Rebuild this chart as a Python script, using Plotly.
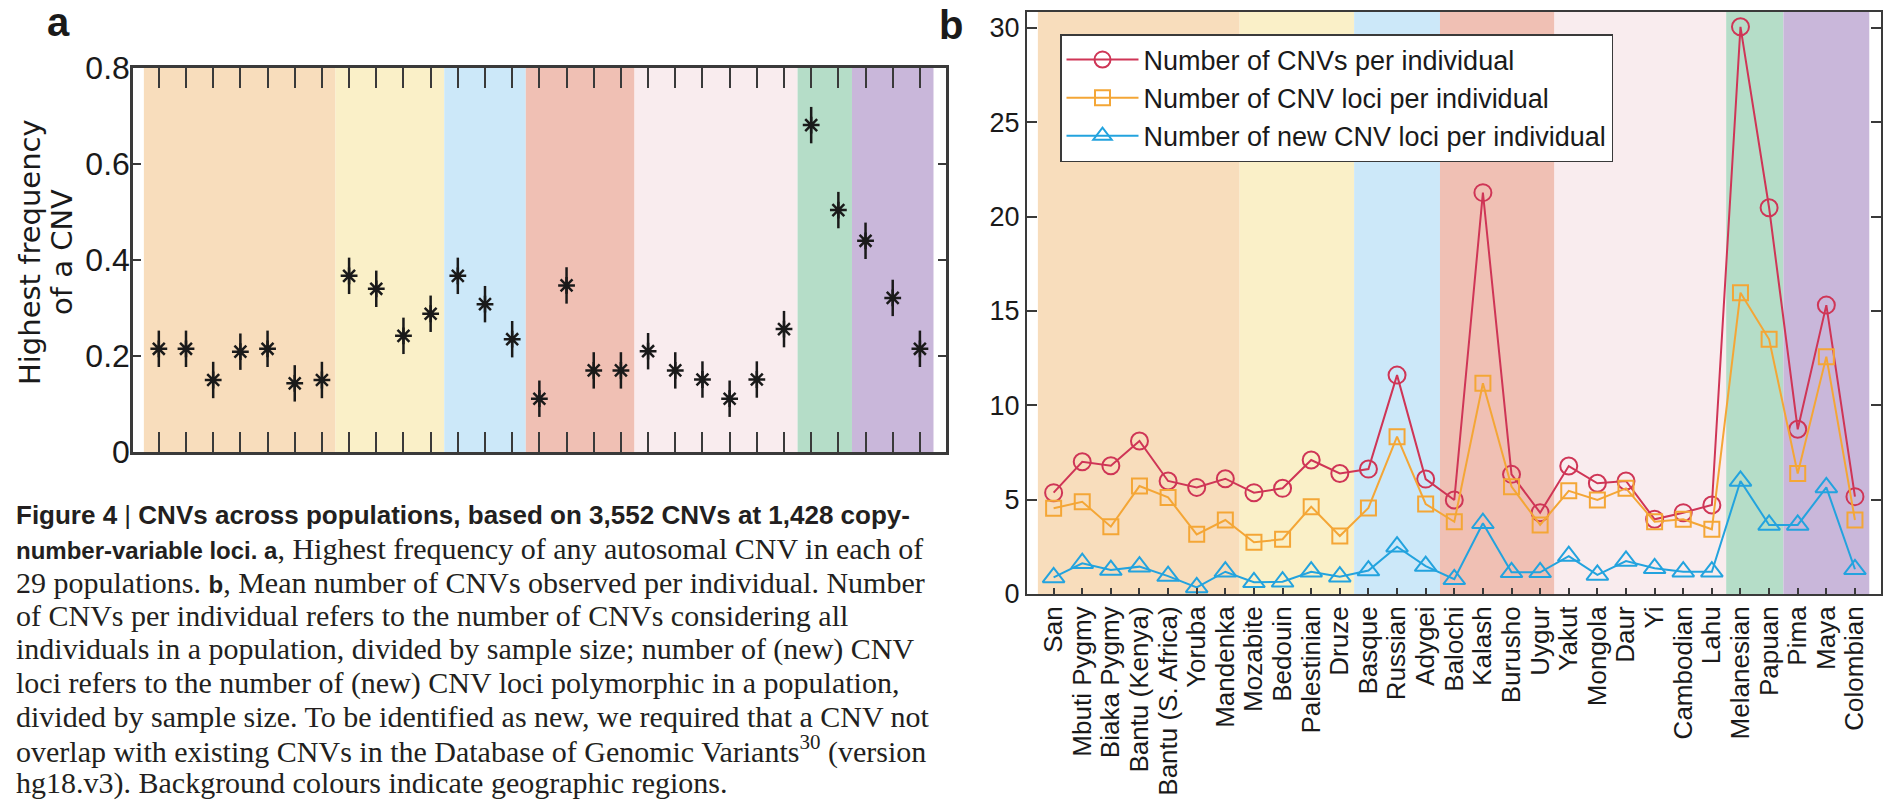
import plotly.graph_objects as go

W, H = 1884, 801

populations = ["San", "Mbuti Pygmy", "Biaka Pygmy", "Bantu (Kenya)", "Bantu (S. Africa)", "Yoruba",
               "Mandenka", "Mozabite", "Bedouin", "Palestinian", "Druze", "Basque", "Russian", "Adygei",
               "Balochi", "Kalash", "Burusho", "Uygur", "Yakut", "Mongola", "Daur", "Yi", "Cambodian",
               "Lahu", "Melanesian", "Papuan", "Pima", "Maya", "Colombian"]
region_sizes = [7, 4, 3, 4, 6, 2, 3]
region_colors = ["#F8DDBC", "#FAF0C8", "#CCE8F9", "#F0C0B4", "#F9ECEE", "#B5DDC8", "#C9B7DA"]

highest_freq = [0.215, 0.215, 0.150, 0.209, 0.215, 0.143, 0.150, 0.367, 0.340, 0.242, 0.288,
                0.367, 0.308, 0.235, 0.111, 0.347, 0.170, 0.170, 0.210, 0.170, 0.151, 0.111,
                0.151, 0.256, 0.681, 0.504, 0.440, 0.321, 0.215]

cnvs_per_ind = [5.37, 7.01, 6.80, 8.11, 5.99, 5.65, 6.11, 5.37, 5.60, 7.10, 6.39, 6.62, 11.6, 6.09,
                4.98, 21.27, 6.34, 4.31, 6.78, 5.87, 5.99, 3.96, 4.31, 4.72, 30.06, 20.47, 8.73,
                15.31, 5.16]
loci_per_ind = [4.54, 4.89, 3.57, 5.72, 5.12, 3.16, 3.92, 2.74, 2.90, 4.63, 3.07, 4.56, 8.34, 4.77,
                3.83, 11.17, 5.69, 3.66, 5.47, 4.98, 5.60, 3.83, 3.96, 3.43, 15.97, 13.50, 6.39,
                12.58, 3.92]
new_loci_per_ind = [0.88, 1.63, 1.27, 1.45, 0.95, 0.35, 1.18, 0.62, 0.65, 1.18, 0.92, 1.24, 2.51,
                    1.48, 0.78, 3.75, 1.15, 1.15, 2.01, 1.01, 1.75, 1.36, 1.18, 1.18, 5.99, 3.66,
                    3.66, 5.65, 1.31]

series_names = ["Number of CNVs per individual", "Number of CNV loci per individual",
                "Number of new CNV loci per individual"]
series_colors = ["#CF3556", "#F4A636", "#23A3DE"]
a_ticks = [0, 0.2, 0.4, 0.6, 0.8]
a_ticktext = ["0", "0.2", "0.4", "0.6", "0.8"]
b_ticks = [0, 5, 10, 15, 20, 25, 30]

BOLD_SPAN = "<span style=\"font-family:Liberation Sans, Arial, sans-serif;font-weight:bold;font-size:24px\">"
caption_lines = [
    "<b>Figure 4</b> | <b>CNVs across populations, based on 3,552 CNVs at 1,428 copy-</b>",
    BOLD_SPAN + "number-variable loci. a</span>, Highest frequency of any autosomal CNV in each of",
    "29 populations. " + BOLD_SPAN + "b</span>, Mean number of CNVs observed per individual. Number",
    "of CNVs per individual refers to the number of CNVs considering all",
    "individuals in a population, divided by sample size; number of (new) CNV",
    "loci refers to the number of (new) CNV loci polymorphic in a population,",
    "divided by sample size. To be identified as new, we required that a CNV not",
    "overlap with existing CNVs in the Database of Genomic Variants<sup>30</sup> (version",
    "hg18.v3). Background colours indicate geographic regions.",
]

x_idx = list(range(1, len(populations) + 1))

def px(x):
    return x / W

def py(y):
    return 1 - y / H

SANS = "Liberation Sans, Arial, Helvetica, sans-serif"
SERIF = "Liberation Serif, Times New Roman, serif"
AX = "#3a3a3a"

fig = go.Figure()

# Panel a: stars (vertical stroke + asterisk)
fig.add_trace(go.Scatter(x=x_idx, y=highest_freq, mode="markers", xaxis="x", yaxis="y",
                         marker=dict(symbol="line-ns-open", size=26, color="#1a1a1a",
                                     line=dict(width=2.5, color="#1a1a1a")),
                         showlegend=False, hoverinfo="skip"))
fig.add_trace(go.Scatter(x=x_idx, y=highest_freq, mode="markers", xaxis="x", yaxis="y",
                         marker=dict(symbol="asterisk-open", size=14, color="#1a1a1a",
                                     line=dict(width=2.5, color="#1a1a1a")),
                         showlegend=False))

# Panel b lines
symbols = ["circle-open", "square-open", "triangle-up-open"]
sizes = [17, 15, 19]
for vals, name, col, sym, sz in zip([cnvs_per_ind, loci_per_ind, new_loci_per_ind],
                                     series_names, series_colors, symbols, sizes):
    fig.add_trace(go.Scatter(x=x_idx, y=vals, mode="lines+markers", name=name,
                             xaxis="x2", yaxis="y2",
                             line=dict(color=col, width=2),
                             marker=dict(symbol=sym, size=sz, color=col,
                                         line=dict(width=2, color=col))))

# background bands
shapes = []
edge = 0.5
for i, (n, c) in enumerate(zip(region_sizes, region_colors)):
    x0 = 0.45 if i == 0 else edge
    x1 = edge + n
    edge = x1
    for xr, yr in (("x", "y domain"), ("x2", "y2 domain")):
        shapes.append(dict(type="rect", xref=xr, yref=yr, x0=x0, x1=x1, y0=0, y1=1,
                           fillcolor=c, line=dict(width=0), layer="below"))

annotations = [
    dict(text="<b>a</b>", x=px(58), y=py(22), xref="paper", yref="paper", showarrow=False,
         font=dict(family=SANS, size=40, color="#1a1a1a"), xanchor="center", yanchor="middle"),
    dict(text="<b>b</b>", x=px(951), y=py(25), xref="paper", yref="paper", showarrow=False,
         font=dict(family=SANS, size=40, color="#1a1a1a"), xanchor="center", yanchor="middle"),
    dict(text="Highest frequency", x=px(30), y=py(252), xref="paper", yref="paper",
         showarrow=False, textangle=-90, font=dict(family="DejaVu Sans", size=29, color="#1a1a1a"),
         xanchor="center", yanchor="middle"),
    dict(text="of a CNV", x=px(62), y=py(252), xref="paper", yref="paper",
         showarrow=False, textangle=-90, font=dict(family="DejaVu Sans", size=29, color="#1a1a1a"),
         xanchor="center", yanchor="middle"),
]
line_y0 = 515
for k, line in enumerate(caption_lines):
    if k == 0:
        f = dict(family=SANS, size=26, color="#231F20")
    else:
        f = dict(family=SERIF, size=30, color="#231F20")
    annotations.append(dict(text=line, x=px(14), y=py(line_y0 + k * 33.5), xref="paper",
                            yref="paper", showarrow=False, xanchor="left", yanchor="middle",
                            align="left", font=f))

fig.update_layout(
    template="none",
    width=W, height=H,
    margin=dict(l=0, r=0, t=0, b=0, pad=0, autoexpand=False),
    paper_bgcolor="white", plot_bgcolor="white",
    shapes=shapes, annotations=annotations,
    xaxis=dict(domain=[px(133), px(946)], range=[0.05, 29.96], tickvals=x_idx,
               showticklabels=False, ticks="inside", ticklen=20, tickwidth=1.5, tickcolor=AX,
               showline=True, linecolor=AX, linewidth=2.5, mirror="ticks", automargin=False,
               showgrid=False, zeroline=False),
    yaxis=dict(domain=[py(452), py(68)], range=[0, 0.8], tickvals=a_ticks, ticktext=a_ticktext,
               ticks="inside", ticklen=8, tickwidth=1.5, tickcolor=AX, automargin=False,
               showline=True, linecolor=AX, linewidth=2.5, mirror="ticks",
               showgrid=False, zeroline=False, ticklabelstandoff=-6,
               tickfont=dict(family=SANS, size=32, color="#1a1a1a")),
    xaxis2=dict(domain=[px(1027), px(1881)], range=[0.07, 29.91], tickvals=x_idx,
                ticktext=populations, tickangle=-90, anchor="y2", automargin=False,
                ticks="inside", ticklen=6, tickwidth=1.5, tickcolor=AX,
                showline=True, linecolor=AX, linewidth=2, mirror=True,
                showgrid=False, zeroline=False,
                tickfont=dict(family=SANS, size=26, color="#1a1a1a")),
    yaxis2=dict(domain=[py(594), py(11.7)], range=[0, 30.86], tickvals=b_ticks, anchor="x2",
                ticks="inside", ticklen=10, tickwidth=1.5, tickcolor=AX, automargin=False,
                showline=True, linecolor=AX, linewidth=2, mirror="ticks",
                showgrid=False, zeroline=False,
                tickfont=dict(family=SANS, size=27, color="#1a1a1a")),
    legend=dict(x=px(1060), y=py(34), xanchor="left", yanchor="top",
                bgcolor="white", bordercolor=AX, borderwidth=1.5,
                font=dict(family=SANS, size=27, color="#1a1a1a"),
                tracegroupgap=0, itemwidth=72),
)

fig.write_html("out.html")
